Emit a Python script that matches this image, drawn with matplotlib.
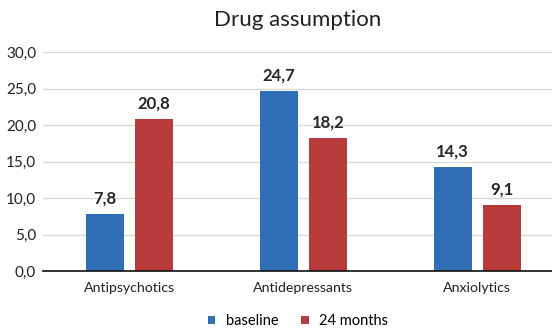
import numpy as np
import matplotlib.pyplot as plt

plt.rcParams['font.family'] = ['Lato', 'DejaVu Sans']

categories = ['Antipsychotics', 'Antidepressants', 'Anxiolytics']
baseline = [7.8, 24.7, 14.3]
months_24 = [20.8, 18.2, 9.1]
yticks = [0, 5, 10, 15, 20, 25, 30]

blue = '#2F6EB5'
red = '#B83A3A'

fig = plt.figure(figsize=(5.52, 3.28), dpi=100)
ax = fig.add_axes([43 / 552, 1 - 271 / 328, 509 / 552, 219 / 328])

x = np.arange(len(categories))
w = 0.218
off = 0.141
b1 = ax.bar(x - off, baseline, w, color=blue, label='baseline', zorder=3)
b2 = ax.bar(x + off, months_24, w, color=red, label='24 months', zorder=3)

# value labels above each bar, decimal comma
for bars in (b1, b2):
    for r in bars:
        h = r.get_height()
        ax.text(r.get_x() + r.get_width() / 2, h + 1.0, f'{h:.1f}'.replace('.', ','),
                ha='center', va='bottom', fontsize=12, fontweight='bold', color='#262626')

ax.set_xlim(-0.497, 2.43)
ax.set_ylim(0, 30)
ax.set_yticks(yticks)
ax.set_yticklabels([f'{v:.1f}'.replace('.', ',') for v in yticks], fontsize=11, color='#222222')
ax.set_xticks(x)
ax.set_xticklabels(categories, fontsize=10.2, color='#222222')
ax.tick_params(length=0)
ax.tick_params(axis='x', pad=8)
ax.tick_params(axis='y', pad=5)
ax.grid(axis='y', color='#D9D9D9', linewidth=1, zorder=0)
for s in ['top', 'right', 'left']:
    ax.spines[s].set_visible(False)
ax.spines['bottom'].set_color('#111111')
ax.spines['bottom'].set_linewidth(1.2)
ax.spines['bottom'].set_zorder(4)

fig.text(298 / 552, 1 - 20 / 328, 'Drug assumption', ha='center', va='center', fontsize=16, color='#222222')

fig.legend(handles=[b1, b2], loc='center', bbox_to_anchor=(298 / 552, 1 - 321 / 328), ncol=2,
           frameon=False, fontsize=10.5, handlelength=0.5, handleheight=0.5, columnspacing=1.6,
           handletextpad=0.7)

fig.savefig('out.png', dpi=100)
